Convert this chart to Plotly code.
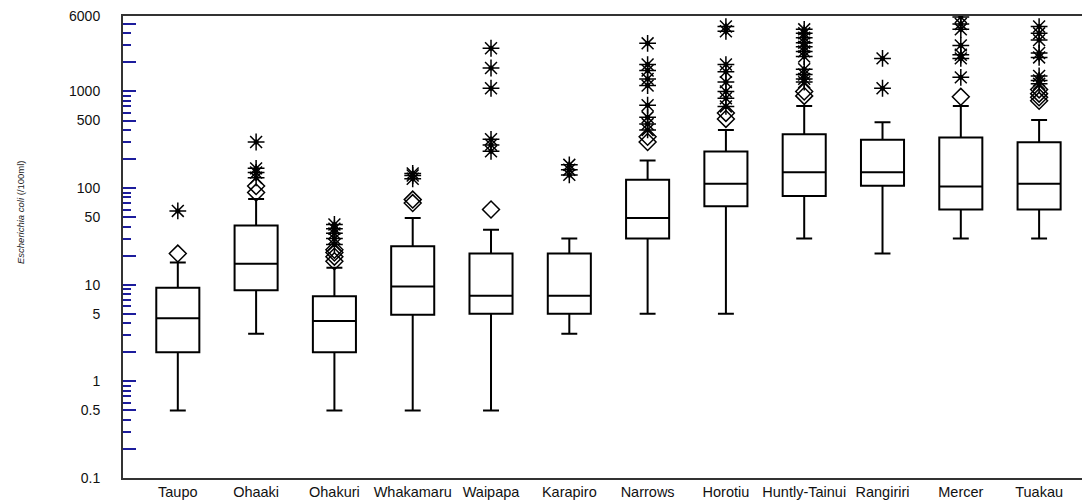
import math
import plotly.graph_objects as go

sites = ["Taupo", "Ohaaki", "Ohakuri", "Whakamaru", "Waipapa", "Karapiro",
         "Narrows", "Horotiu", "Huntly-Tainui", "Rangiriri", "Mercer", "Tuakau"]

q1 = [2.0, 8.75, 2.0, 4.9, 5.0, 5.0, 30, 65, 83, 106, 60, 60]
median = [4.5, 16.5, 4.2, 9.6, 7.7, 7.7, 49, 111, 146, 146, 104, 111]
q3 = [9.3, 41, 7.6, 25, 21, 21, 122, 239, 360, 316, 333, 299]
lower_whisker = [0.5, 3.1, 0.5, 0.5, 0.5, 3.1, 5.0, 5.0, 30, 21, 30, 30]
upper_whisker = [17, 77, 15, 49, 37, 30, 193, 400, 708, 481, 708, 508]

# open-diamond outliers
outliers = [
    [21],
    [90, 105],
    [17.5, 19.5, 21.5, 23],
    [70, 76],
    [60],
    [],
    [300, 340],
    [520, 600],
    [900, 1000],
    [],
    [880],
    [800, 870, 950, 1050],
]
# asterisk (extreme) values
extremes = [
    [58],
    [128, 145, 160, 300],
    [26, 30, 34, 38, 42],
    [125, 135, 142],
    [240, 280, 320, 1080, 1750, 2800],
    [137, 155, 174],
    [400, 460, 540, 720, 1150, 1350, 1650, 1900, 3150],
    [700, 850, 1000, 1250, 1600, 1900, 4200, 4700],
    [1250, 1350, 1500, 1700, 2300, 2600, 2900, 3200, 3600, 4000, 4400],
    [1080, 2200],
    [1400, 2200, 2400, 3000, 4400, 5000, 5900],
    [1200, 1300, 1450, 2250, 2500, 3400, 4000, 4700],
]

major_ticks = [0.1, 0.2, 0.5, 1, 2, 5, 10, 20, 50, 100, 200, 500, 1000, 2000, 5000, 6000]
major_labels = ["0.1", "", "0.5", "1", "", "5", "10", "", "50", "100", "", "500", "1000", "", "", "6000"]
minor_ticks = [0.3, 0.4, 0.6, 0.7, 0.8, 0.9, 3, 4, 6, 7, 8, 9, 30, 40, 60, 70, 80, 90,
               300, 400, 600, 700, 800, 900, 3000, 4000]

fig = go.Figure()
fig.add_trace(go.Box(
    x=sites, q1=q1, median=median, q3=q3,
    lowerfence=lower_whisker, upperfence=upper_whisker,
    boxpoints=False, width=0.55, whiskerwidth=0.37,
    line=dict(color="black", width=2), fillcolor="white",
    showlegend=False, hoverinfo="skip",
))

ox, oy = [], []
for s, vals in zip(sites, outliers):
    ox += [s] * len(vals)
    oy += vals
ex, ey = [], []
for s, vals in zip(sites, extremes):
    ex += [s] * len(vals)
    ey += vals

fig.add_trace(go.Scatter(
    x=ox, y=oy, mode="markers", showlegend=False,
    marker=dict(symbol="diamond-open", size=13, color="black", line=dict(width=1.5, color="black")),
))
fig.add_trace(go.Scatter(
    x=ex, y=ey, mode="markers", showlegend=False,
    marker=dict(symbol="asterisk-open", size=14, color="black", line=dict(width=1.5, color="black")),
))
fig.add_trace(go.Scatter(
    x=ex, y=ey, mode="markers", showlegend=False,
    marker=dict(symbol="circle", size=5, color="black"),
))

tickblue = "#1c1c9c"
fig.update_layout(
    width=1082, height=494,
    margin=dict(l=115, r=0, t=8, b=24),
    paper_bgcolor="white", plot_bgcolor="white",
    font=dict(family="Liberation Sans, Arial, sans-serif", color="#111111"),
    xaxis=dict(
        type="category", range=[-0.70, 11.65],
        showline=True, linecolor="#333333", linewidth=2, mirror=True,
        ticks="", showgrid=False, zeroline=False,
        tickfont=dict(size=14.5, color="#111111"),
    ),
    yaxis=dict(
        type="log", range=[-1.0005, math.log10(6000) + 0.003],
        showline=True, linecolor="#333333", linewidth=2,
        showgrid=False, zeroline=False,
        tickmode="array", tickvals=major_ticks, ticktext=major_labels,
        ticks="inside", ticklen=13, tickwidth=2, tickcolor=tickblue,
        tickfont=dict(size=14, color="#111111"),
        ticklabelstandoff=18,
        minor=dict(tickmode="array", tickvals=minor_ticks, ticks="inside",
                   ticklen=8, tickwidth=2, tickcolor=tickblue, showgrid=False),
    ),
    annotations=[dict(
        text="<i>Escherichia coli</i> (/100ml)",
        xref="paper", yref="paper",
        x=(12 - 115) / 967, y=(470 - 205) / 462,
        xanchor="center", yanchor="middle", textangle=-90,
        showarrow=False, font=dict(size=9.5, color="#222222"),
    )],
)

fig.write_html("out.html")
